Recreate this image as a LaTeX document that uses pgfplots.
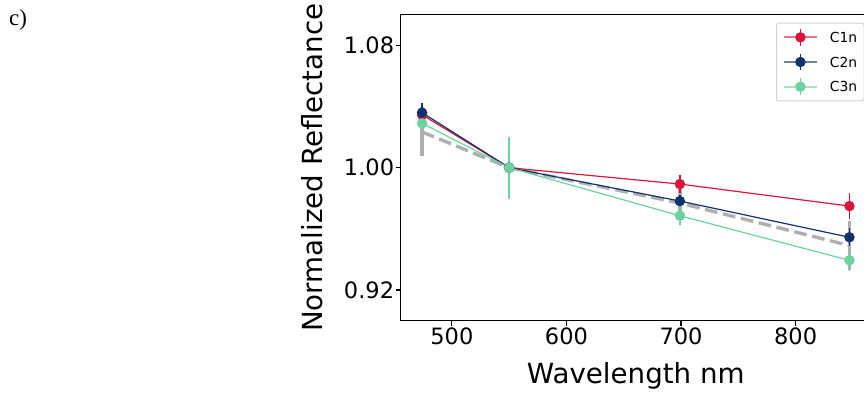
\documentclass[border=0pt]{standalone}
\usepackage{pgfplots}
\pgfplotsset{compat=1.18}
\usepackage{fontspec}
\setmainfont{DejaVu Sans}
\newfontfamily\timesfont{Liberation Serif}
\definecolor{cone}{RGB}{220,20,60}
\definecolor{ctwo}{RGB}{16,50,110}
\definecolor{cthree}{RGB}{108,210,160}
\definecolor{cgray}{RGB}{175,175,175}
\newcommand\legimg[1]{%
  \draw[#1, line width=2.2bp, opacity=0.6] (0bp,0bp) -- (32.3bp,0bp);
  \draw[#1, line width=1.4bp] (16.15bp,-8.3bp) -- (16.15bp,8.3bp);
  \fill[#1] (16.15bp,0bp) circle (4.6bp);}
\begin{document}
\begin{tikzpicture}[x=1bp,y=1bp]
\useasboundingbox (0,0) rectangle (864,394);
\node[anchor=base west, inner sep=0pt, font=\timesfont\fontsize{23}{27}\selectfont] at (9,369) {c)};
\begin{axis}[
  at={(400.7bp,73.4bp)}, anchor=south west,
  width=470.1bp, height=305.8bp, scale only axis,
  xmin=455.35, xmax=865.65, ymin=0.9, ymax=1.1,
  xtick={500,600,700,800}, ytick={0.92,1.00,1.08},
  xtick pos=bottom, ytick pos=left,
  tick align=outside, major tick length=4.9bp,
  tick style={black, line width=1.1bp},
  axis line style={line width=1.1bp},
  /pgf/number format/assume math mode=true,
  yticklabel style={/pgf/number format/fixed, /pgf/number format/fixed zerofill, /pgf/number format/precision=2},
  xticklabel style={/pgf/number format/1000 sep={}},
  tick label style={font=\fontsize{22.6}{26}\selectfont},
  every x tick label/.append style={anchor=base, yshift=-18.6bp},
  every y tick label/.append style={anchor=east, inner sep=0pt, xshift=-1.5bp},
  xlabel={Wavelength nm}, ylabel={Normalized Reflectance},
  every axis x label/.style={at={(axis description cs:0.5,-0.205)}, anchor=base, font=\fontsize{27.8}{32}\selectfont},
  every axis y label/.style={at={(axis description cs:-0.1659,0.5)}, anchor=base, rotate=90, font=\fontsize{27.8}{32}\selectfont},
  legend cell align=left,
  legend style={at={(axis description cs:0.7984,0.9742)}, anchor=north west,
    draw=black!18, line width=0.9bp, rounded corners=2.5bp, fill=white,
    font=\fontsize{13.9}{16}\selectfont,
    inner xsep=6.7bp, inner ysep=5.2bp, row sep=6.7bp,
    nodes={inner sep=0pt, text depth=0pt},
    /tikz/every odd column/.append style={column sep=12.3bp}},
]
\addplot[cgray, line width=3.4bp, dash pattern=on 12.8bp off 5.6bp, forget plot,
  error bars/.cd, y dir=both, y explicit, error mark=none,
  error bar style={line width=3.4bp, solid, cgray}]
  coordinates {(474,1.0234) +- (0,0.016) (550,1.0) +- (0,0) (699,0.9769) +- (0,0.009) (847,0.9491) +- (0,0.0158)};
\addplot[cone, line width=1.2bp, mark=*, mark size=4.6bp, mark options={solid},
  legend image code/.code={\legimg{cone}},
  error bars/.cd, y dir=both, y explicit, error mark=none,
  error bar style={line width=1.4bp}]
  coordinates {(474,1.0346) +- (0,0.004) (550,1.0) +- (0,0) (699,0.9893) +- (0,0.0061) (847,0.9749) +- (0,0.0083)};
\addlegendentry{C1n\hspace{9bp}}
\addplot[ctwo, line width=1.2bp, mark=*, mark size=4.6bp, mark options={solid},
  legend image code/.code={\legimg{ctwo}},
  error bars/.cd, y dir=both, y explicit, error mark=none,
  error bar style={line width=1.4bp}]
  coordinates {(474,1.0360) +- (0,0.0061) (550,1.0) +- (0,0) (699,0.9782) +- (0,0.004) (847,0.9545) +- (0,0.006)};
\addlegendentry{C2n\hspace{9bp}}
\addplot[cthree, line width=1.2bp, mark=*, mark size=4.6bp, mark options={solid},
  legend image code/.code={\legimg{cthree}},
  error bars/.cd, y dir=both, y explicit, error mark=none,
  error bar style={line width=1.4bp}]
  coordinates {(474,1.0290) +- (0,0.004) (550,1.0) +- (0,0.0203) (699,0.9686) +- (0,0.0063) (847,0.9394) +- (0,0.0068)};
\addlegendentry{C3n\hspace{9bp}}
\end{axis}
\end{tikzpicture}
\end{document}
